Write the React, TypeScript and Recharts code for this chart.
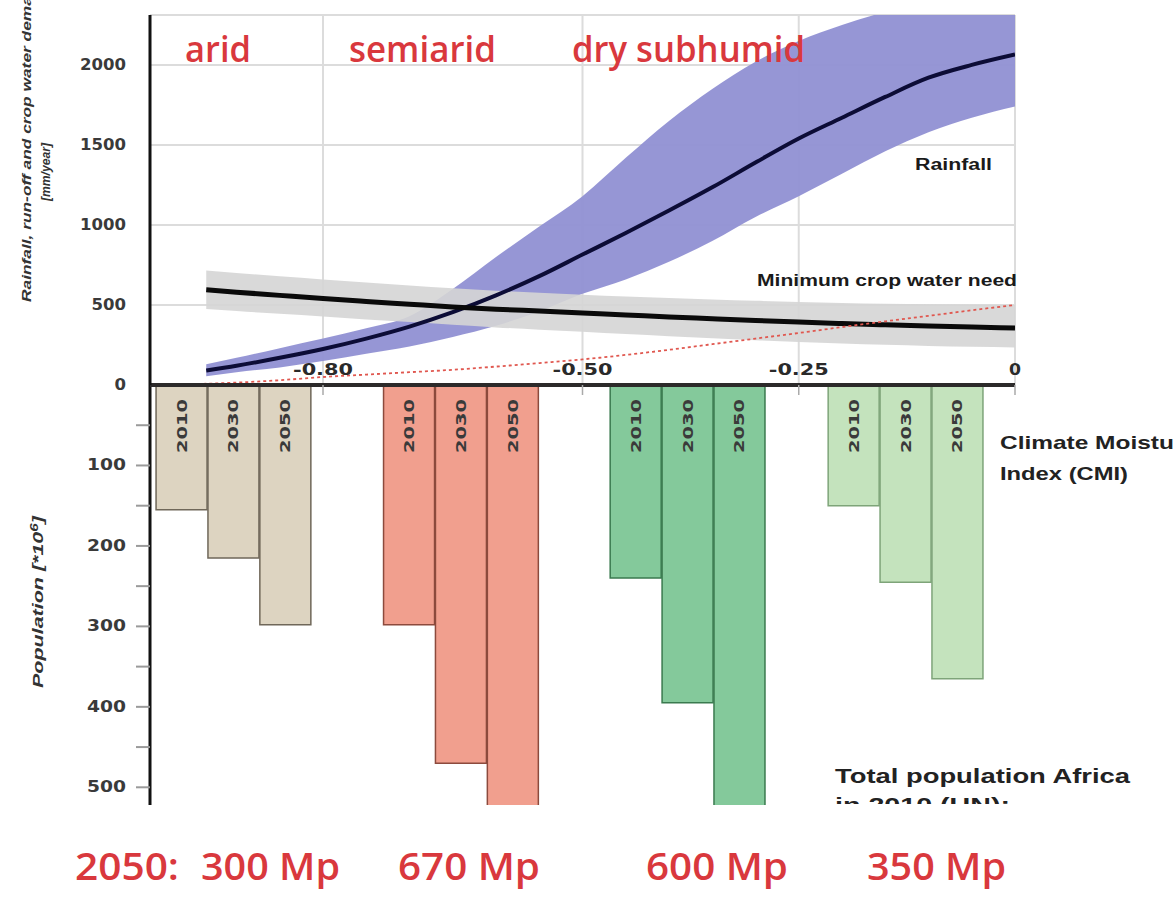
import React from 'react';
import { ComposedChart, Area, Line, Bar, Cell, LabelList, XAxis, YAxis, CartesianGrid } from 'recharts';

// ---- Top panel: rainfall, crop water need, run-off versus Climate Moisture Index ----
const cmiGrid = [-0.98, -0.935, -0.9, -0.85, -0.8, -0.75, -0.7, -0.65, -0.6, -0.55, -0.5, -0.45, -0.4, -0.35, -0.3, -0.25, -0.2, -0.15, -0.1, -0.05, 0];
const rainMean = [null, 90, 120, 170, 225, 290, 365, 455, 560, 680, 815, 950, 1090, 1235, 1390, 1540, 1670, 1800, 1920, 2000, 2065];
const rainLow = [null, 55, 80, 110, 150, 195, 240, 300, 370, 460, 570, 660, 770, 900, 1050, 1180, 1320, 1460, 1580, 1670, 1740];
const rainHigh = [null, 130, 170, 230, 290, 355, 430, 600, 800, 990, 1180, 1420, 1650, 1850, 2020, 2150, 2250, 2330, 2380, 2400, 2420];
const cropMean = [null, 595, 580, 560, 540, 522, 505, 488, 474, 462, 450, 438, 425, 414, 403, 393, 384, 376, 369, 362, 356];
const cropLow = [null, 475, 462, 445, 428, 410, 393, 376, 360, 346, 332, 318, 305, 292, 280, 269, 259, 251, 244, 239, 235];
const cropHigh = [null, 715, 700, 680, 660, 640, 622, 604, 589, 576, 564, 553, 543, 534, 526, 519, 513, 508, 505, 502, 500];
const runoff = [3, 8, 15, 30, 50, 65, 80, 95, 115, 137, 160, 188, 220, 255, 290, 325, 362, 398, 432, 467, 500];

const xTickValues = [-0.8, -0.5, -0.25, 0];
const xTickLabels = ['-0.80', '-0.50', '-0.25', '0'];
const rainTicks = [0, 500, 1000, 1500, 2000];
const popTicks = [50, 100, 150, 200, 250, 300, 350, 400, 450, 500];

// ---- Bottom panel: population (millions) per climate class ----
const years = ['2010', '2030', '2050'];
const aridCmi = [-0.963, -0.903, -0.843];
const semiaridCmi = [-0.7, -0.64, -0.58];
const drySubhumidCmi = [-0.438, -0.378, -0.318];
const moistSubhumidCmi = [-0.186, -0.126, -0.066];
const popArid = [155, 215, 298];
const popSemiarid = [298, 470, 670];
const popDrySubhumid = [240, 395, 600];
const popMoistSubhumid = [150, 245, 365];

const classLabels = ['arid', 'semiarid', 'dry subhumid'];
const totals2050 = ['300 Mp', '670 Mp', '600 Mp', '350 Mp'];

const barFills = ['#ddd4c1', '#f19f8e', '#84c99b', '#c4e3bd'];
const barStrokes = ['#6f6759', '#8c4a3d', '#3a7a4f', '#7ea479'];

const topData = cmiGrid.map((c, i) => ({
  cmi: c,
  rain: rainMean[i],
  rainBand: rainLow[i] == null ? undefined : [rainLow[i], rainHigh[i]],
  crop: cropMean[i],
  cropBand: cropLow[i] == null ? undefined : [cropLow[i], cropHigh[i]],
  runoff: runoff[i],
}));

const groupCmi = [aridCmi, semiaridCmi, drySubhumidCmi, moistSubhumidCmi];
const groupPop = [popArid, popSemiarid, popDrySubhumid, popMoistSubhumid];
const barData = groupCmi.flatMap((cs, g) =>
  cs.map((c, i) => ({ cmi: c, pop: groupPop[g][i], year: years[i], group: g }))
);

const XTick = (props: any) => {
  const { x, y, payload } = props;
  const idx = xTickValues.indexOf(payload.value);
  const label = idx >= 0 ? xTickLabels[idx] : String(payload.value);
  return (
    <text x={x} y={y - 20} textAnchor="middle" fontFamily="DejaVu Sans" fontWeight="bold" fontSize={15}
      fill="#2a2a2a" textLength={label.length * 12} lengthAdjust="spacingAndGlyphs">
      {label}
    </text>
  );
};

const RainTick = (props: any) => {
  const { x, y, payload } = props;
  const label = String(payload.value);
  return (
    <text x={x} y={y} dy={5} textAnchor="end" fontFamily="DejaVu Sans" fontWeight="bold" fontSize={15} fill="#3a3a3a"
      textLength={label.length * 11.5} lengthAdjust="spacingAndGlyphs">
      {label}
    </text>
  );
};

const PopTick = (props: any) => {
  const { x, y, payload } = props;
  const major = payload.value % 100 === 0;
  const label = String(payload.value);
  return (
    <g>
      <line x1={x + 10} x2={x + 24} y1={y} y2={y} stroke="#9a9a9a" strokeWidth={2} />
      {major && (
        <text x={x} y={y} dy={5} textAnchor="end" fontFamily="DejaVu Sans" fontWeight="bold" fontSize={15} fill="#3a3a3a"
          textLength={label.length * 13} lengthAdjust="spacingAndGlyphs">
          {label}
        </text>
      )}
    </g>
  );
};

const YearLabel = (props: any) => {
  const { x, y, width, height, value } = props;
  const cx = x + width / 2;
  const cy = Math.min(y, y + height) + 41;
  return (
    <text x={cx} y={cy} transform={`rotate(-90 ${cx} ${cy})`} textAnchor="middle" dominantBaseline="central"
      fontFamily="DejaVu Sans" fontWeight="bold" fontSize={14} fill="#3a3a3a" textLength={54} lengthAdjust="spacingAndGlyphs">
      {value}
    </text>
  );
};

const red = '#d9383d';
const redFont = '"Open Sans", "Noto Sans", sans-serif';
const blackFont = '"Liberation Sans", Arial, sans-serif';

export default function App() {
  return (
    <div style={{ position: 'absolute', left: 0, top: 0, width: 1174, height: 900, background: '#fff', overflow: 'hidden' }}>
      {/* bottom panel: population bars */}
      <div style={{ position: 'absolute', left: 0, top: 385 }}>
        <ComposedChart width={1174} height={425} data={barData} margin={{ top: 0, right: 159, bottom: 5, left: 90 }}>
          <XAxis dataKey="cmi" type="number" domain={[-1, 0]} hide allowDataOverflow />
          <YAxis type="number" domain={[0, 522]} reversed allowDataOverflow ticks={popTicks} width={60}
            tickSize={14} tickMargin={10} tickLine={false} tick={<PopTick />}
            axisLine={{ stroke: '#111', strokeWidth: 3 }} interval={0} />
          <Bar dataKey="pop" barSize={51} isAnimationActive={false} strokeWidth={1.5}>
            {barData.map((d, i) => (
              <Cell key={i} fill={barFills[d.group]} stroke={barStrokes[d.group]} />
            ))}
            <LabelList dataKey="year" content={<YearLabel />} />
          </Bar>
        </ComposedChart>
      </div>

      {/* top panel: rainfall, crop water need, run-off */}
      <div style={{ position: 'absolute', left: 0, top: 0 }}>
        <ComposedChart width={1174} height={400} data={topData} margin={{ top: 15, right: 159, bottom: 0, left: 90 }}>
          <CartesianGrid stroke="#dcdcdc" strokeWidth={2} />
          <XAxis dataKey="cmi" type="number" domain={[-1, 0]} ticks={xTickValues} height={15} interval={0}
            tickSize={10} tickMargin={0} tickLine={{ stroke: '#aaa', strokeWidth: 1.5 }} tick={<XTick />}
            axisLine={{ stroke: '#2c2a2a', strokeWidth: 4 }} allowDataOverflow />
          <YAxis type="number" domain={[0, 2312]} ticks={rainTicks} allowDataOverflow width={60} interval={0}
            tickSize={0} tickMargin={24} tickLine={false} tick={<RainTick />}
            axisLine={{ stroke: '#111', strokeWidth: 3 }} />
          <Area dataKey="rainBand" type="monotone" fill="#9090d3" fillOpacity={0.95} stroke="none" isAnimationActive={false} />
          <Line dataKey="rain" type="monotone" stroke="#0c0c36" strokeWidth={4} dot={false} isAnimationActive={false} />
          <Area dataKey="cropBand" type="monotone" fill="#d5d5d5" fillOpacity={0.9} stroke="none" isAnimationActive={false} />
          <Line dataKey="crop" type="monotone" stroke="#0a0a0a" strokeWidth={5} dot={false} isAnimationActive={false} />
          <Line dataKey="runoff" type="monotone" stroke="#e0574f" strokeWidth={1.8} strokeDasharray="3 3" dot={false} isAnimationActive={false} />
        </ComposedChart>
      </div>

      {/* annotations */}
      <svg width={1174} height={900} style={{ position: 'absolute', left: 0, top: 0, pointerEvents: 'none' }}>
        <defs>
          <clipPath id="cutoff">
            <rect x={0} y={0} width={1174} height={804} />
          </clipPath>
        </defs>
        <text x={185} y={62} fontFamily={redFont} fontWeight={600} fontSize={36} fill={red} textLength={66} lengthAdjust="spacingAndGlyphs">{classLabels[0]}</text>
        <text x={349} y={62} fontFamily={redFont} fontWeight={600} fontSize={36} fill={red} textLength={147} lengthAdjust="spacingAndGlyphs">{classLabels[1]}</text>
        <text x={572} y={62} fontFamily={redFont} fontWeight={600} fontSize={36} fill={red} textLength={233} lengthAdjust="spacingAndGlyphs">{classLabels[2]}</text>

        <text x={915} y={170} fontFamily={blackFont} fontWeight="bold" fontSize={16} fill="#1a1a1a" textLength={77} lengthAdjust="spacingAndGlyphs">Rainfall</text>
        <text x={757} y={286} fontFamily={blackFont} fontWeight="bold" fontSize={16} fill="#1a1a1a" textLength={260} lengthAdjust="spacingAndGlyphs">Minimum crop water need</text>

        <text x={1000} y={449} fontFamily={blackFont} fontWeight="bold" fontSize={19} fill="#222" textLength={197} lengthAdjust="spacingAndGlyphs">Climate Moisture</text>
        <text x={1000} y={480} fontFamily={blackFont} fontWeight="bold" fontSize={19} fill="#222" textLength={128} lengthAdjust="spacingAndGlyphs">Index (CMI)</text>

        <text x={835} y={783} fontFamily={blackFont} fontWeight="bold" fontSize={20} fill="#222" textLength={295} lengthAdjust="spacingAndGlyphs">Total population Africa</text>
        <g clipPath="url(#cutoff)">
          <text x={835} y={812} fontFamily={blackFont} fontWeight="bold" fontSize={20} fill="#222" textLength={175} lengthAdjust="spacingAndGlyphs">in 2010 (UN):</text>
        </g>

        <text x={31} y={302} transform="rotate(-90 31 302)" fontFamily={blackFont} fontWeight="bold" fontStyle="italic" fontSize={13} fill="#333" textLength={327} lengthAdjust="spacingAndGlyphs">Rainfall, run-off and crop water demand</text>
        <text x={50} y={172} transform="rotate(-90 50 172)" textAnchor="middle" fontFamily={blackFont} fontWeight="bold" fontStyle="italic" fontSize={13} fill="#333" textLength={58} lengthAdjust="spacingAndGlyphs">[mm/year]</text>
        <text x={43} y={602} transform="rotate(-90 43 602)" textAnchor="middle" fontFamily={blackFont} fontWeight="bold" fontStyle="italic" fontSize={14} fill="#333" textLength={172} lengthAdjust="spacingAndGlyphs">
          Population [*10<tspan dy={-5} fontSize={10}>6</tspan><tspan dy={5}>]</tspan>
        </text>

        <text x={75} y={880} fontFamily={redFont} fontWeight={600} fontSize={38} fill={red} textLength={104} lengthAdjust="spacingAndGlyphs">2050:</text>
        <text x={201} y={880} fontFamily={redFont} fontWeight={600} fontSize={38} fill={red} textLength={139} lengthAdjust="spacingAndGlyphs">{totals2050[0]}</text>
        <text x={398} y={880} fontFamily={redFont} fontWeight={600} fontSize={38} fill={red} textLength={142} lengthAdjust="spacingAndGlyphs">{totals2050[1]}</text>
        <text x={646} y={880} fontFamily={redFont} fontWeight={600} fontSize={38} fill={red} textLength={142} lengthAdjust="spacingAndGlyphs">{totals2050[2]}</text>
        <text x={867} y={880} fontFamily={redFont} fontWeight={600} fontSize={38} fill={red} textLength={139} lengthAdjust="spacingAndGlyphs">{totals2050[3]}</text>
      </svg>
    </div>
  );
}
